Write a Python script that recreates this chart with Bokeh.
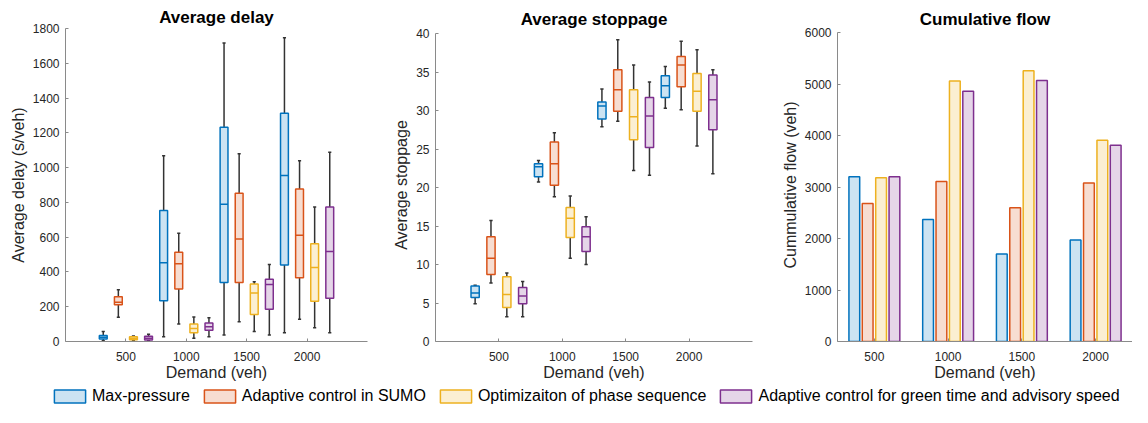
from bokeh.plotting import figure
from bokeh.layouts import column, row
from bokeh.models import ColumnDataSource, Legend, LegendItem, FixedTicker, Range1d
from bokeh.embed import file_html
from bokeh.resources import INLINE

# ---------------- data ----------------
demand = [500, 1000, 1500, 2000]
methods = ["Max-pressure", "Adaptive control in SUMO",
           "Optimizaiton of phase sequence",
           "Adaptive control for green time and advisory speed"]
colors = ["#0072BD", "#D95319", "#EDB120", "#7E2F8E"]

# box stats per demand: [min, q1, median, q3, max]
delay_maxp = [[5, 15, 25, 35, 58], [28, 234, 453, 753, 1068], [38, 340, 789, 1232, 1717], [51, 440, 955, 1312, 1747]]
delay_sumo = [[140, 211, 226, 258, 298], [100, 302, 447, 513, 623], [113, 340, 589, 853, 1080], [128, 366, 611, 877, 1040]]
delay_phase = [[6, 10, 19, 28, 32], [19, 51, 75, 100, 141], [57, 155, 279, 330, 343], [79, 232, 425, 562, 774]]
delay_green = [[5, 8, 19, 30, 42], [28, 64, 85, 106, 136], [38, 185, 328, 358, 443], [51, 249, 517, 774, 1089]]

stop_maxp = [[4.9, 5.7, 6.3, 7.2, 7.3], [20.7, 21.4, 22.7, 23.1, 23.5], [27.9, 28.9, 30.6, 31.1, 32.8], [30.3, 31.7, 33.2, 34.5, 35.7]]
stop_sumo = [[7.6, 8.7, 10.8, 13.6, 15.7], [18.8, 20.3, 23.1, 25.9, 27.1], [28.6, 29.9, 32.7, 35.3, 39.2], [30.1, 33.1, 35.9, 37.0, 39.0]]
stop_phase = [[3.2, 4.4, 6.1, 8.4, 8.9], [10.8, 13.5, 16.0, 17.4, 18.9], [22.2, 26.2, 29.2, 32.7, 35.9], [25.4, 29.9, 32.5, 34.8, 37.9]]
stop_green = [[3.2, 4.9, 5.9, 7.0, 7.8], [10.0, 11.7, 13.6, 14.9, 16.2], [21.6, 25.2, 29.3, 31.7, 33.7], [21.8, 27.5, 31.4, 34.6, 35.3]]

flow_maxp = [3200, 2370, 1700, 1970]
flow_sumo = [2680, 3110, 2600, 3080]
flow_phase = [3180, 5060, 5260, 3910]
flow_green = [3200, 4860, 5070, 3810]

delay_all = [delay_maxp, delay_sumo, delay_phase, delay_green]
stop_all = [stop_maxp, stop_sumo, stop_phase, stop_green]
flow_all = [flow_maxp, flow_sumo, flow_phase, flow_green]

# ---------------- style ----------------
FONT = "Liberation Sans"
AXC = "#8a8a8a"
TXT = "#262626"
box_offsets = [-187.5, -62.5, 62.5, 187.5]
box_w = 65
cap_w = 26
bar_offsets = [-136, -45.5, 45.5, 136]
bar_w = 73
NAN = float("nan")


def make_fig(width, height, xr, yr, ybounds, yticks, title, ylabel, bl, br, title_standoff):
    p = figure(width=width, height=height, x_range=Range1d(*xr), y_range=Range1d(*yr),
               output_backend="svg", toolbar_location=None,
               min_border_left=bl, min_border_top=28, min_border_right=br, min_border_bottom=46)
    p.title.text = title
    p.title.text_font = FONT
    p.title.text_font_size = "17px"
    p.title.text_font_style = "bold"
    p.title.text_color = "#000000"
    p.title.align = "center"
    p.title.standoff = title_standoff
    p.outline_line_color = None
    p.xgrid.visible = False
    p.ygrid.visible = False
    p.xaxis.ticker = FixedTicker(ticks=demand)
    p.yaxis.ticker = FixedTicker(ticks=yticks)
    p.yaxis.bounds = ybounds
    for ax in (p.xaxis, p.yaxis):
        ax.axis_line_color = AXC
        ax.major_tick_line_color = AXC
        ax.major_tick_in = 3
        ax.major_tick_out = 0
        ax.minor_tick_line_color = None
        ax.major_label_text_font = FONT
        ax.major_label_text_font_size = "12px"
        ax.major_label_text_color = TXT
        ax.axis_label_text_font = FONT
        ax.axis_label_text_font_size = "16px"
        ax.axis_label_text_font_style = "normal"
        ax.axis_label_text_color = TXT
    p.xaxis.axis_label = "Demand (veh)"
    p.yaxis.axis_label = ylabel
    p.xaxis.major_label_standoff = 10
    p.xaxis.axis_label_standoff = 0
    p.yaxis.major_label_standoff = 6
    p.yaxis.axis_label_standoff = 3
    return p


def draw_boxes(p, stats_all):
    for i, stats in enumerate(stats_all):
        x = [d + box_offsets[i] for d in demand]
        mn = [s[0] for s in stats]
        q1 = [s[1] for s in stats]
        md = [s[2] for s in stats]
        q3 = [s[3] for s in stats]
        mx = [s[4] for s in stats]
        src = ColumnDataSource(dict(
            x=x, mn=mn, q1=q1, md=md, q3=q3, mx=mx,
            xl=[v - cap_w / 2 for v in x], xr=[v + cap_w / 2 for v in x],
            bl=[v - box_w / 2 for v in x], br=[v + box_w / 2 for v in x]))
        p.segment(x0="x", y0="q3", x1="x", y1="mx", source=src, line_color="#333333", line_width=1.5)
        p.segment(x0="x", y0="mn", x1="x", y1="q1", source=src, line_color="#333333", line_width=1.5)
        p.segment(x0="xl", y0="mx", x1="xr", y1="mx", source=src, line_color="#333333", line_width=1.5)
        p.segment(x0="xl", y0="mn", x1="xr", y1="mn", source=src, line_color="#333333", line_width=1.5)
        p.vbar(x="x", width=box_w, bottom="q1", top="q3", source=src,
               fill_color=colors[i], fill_alpha=0.2, line_color=colors[i], line_width=1.5)
        p.segment(x0="bl", y0="md", x1="br", y1="md", source=src, line_color=colors[i], line_width=1.5)


H = 387
p1 = make_fig(390, H, (0, 2500), (0, 1800), (0, 1800), list(range(0, 1801, 200)),
              "Average delay", "Average delay (s/veh)", 65, 23, 4)
draw_boxes(p1, delay_all)

p2 = make_fig(388, H, (0, 2500), (0, 40.65), (0, 40), list(range(0, 41, 5)),
              "Average stoppage", "Average stoppage", 43, 26, -1)
draw_boxes(p2, stop_all)

p3 = make_fig(354, H, (250, 2250), (0, 6080), (0, 6000), list(range(0, 6001, 1000)),
              "Cumulative flow", "Cummulative flow (veh)", 58, 0, -1)
for i, vals in enumerate(flow_all):
    src = ColumnDataSource(dict(x=[d + bar_offsets[i] for d in demand], top=vals))
    p3.vbar(x="x", width=bar_w, top="top", bottom=0, source=src,
            fill_color=colors[i], fill_alpha=0.2, line_color=colors[i], line_width=1.5)

# ---------------- legend ----------------
pl = figure(width=1132, height=20, x_range=Range1d(0, 1), y_range=Range1d(0, 1),
            output_backend="svg", toolbar_location=None,
            min_border_left=0, min_border_right=0, min_border_top=0, min_border_bottom=0)
pl.axis.visible = False
pl.grid.visible = False
pl.outline_line_color = None
items = []
for i, m in enumerate(methods):
    r = pl.quad(left=[NAN], right=[NAN], top=[NAN], bottom=[NAN], fill_color=colors[i], fill_alpha=0.2,
                line_color=colors[i], line_width=1.5)
    items.append(LegendItem(label=m, renderers=[r]))
leg = Legend(items=items, orientation="horizontal", location=(50, 2),
             glyph_width=39, glyph_height=16, label_standoff=3, spacing=10,
             padding=0, margin=0, border_line_color=None, background_fill_alpha=0,
             label_text_font=FONT, label_text_font_size="16px", label_text_color="#000000",
             label_height=16)
pl.add_layout(leg)

layout = column(row(p1, p2, p3), pl)
open("out.html", "w").write(file_html(layout, INLINE))
